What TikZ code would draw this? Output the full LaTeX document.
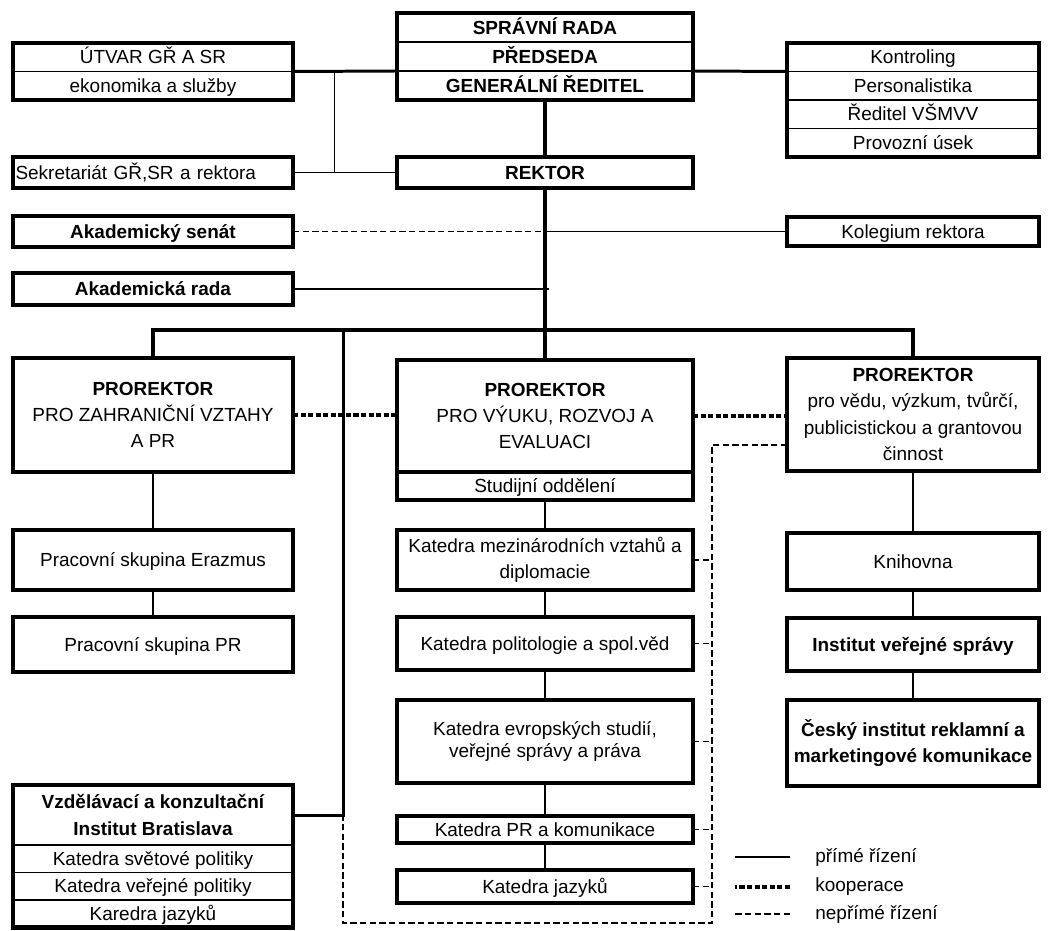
\documentclass[tikz,border=0pt]{standalone}
\usepackage{fontspec}
\setmainfont{Liberation Sans}
\usetikzlibrary{positioning,calc}

\tikzset{
	row/.style={draw,line width=1pt,outer sep=0pt,inner sep=1pt,text height=8.2pt,text depth=0.6pt,font=\fontsize{10.8}{15}\selectfont},
	box/.style={row,line width=2.3pt},
	multi/.style={align=center,text height=,text depth=},
	hd/.style={font=\fontsize{10.8}{15}\selectfont\bfseries},
	frame/.style={draw,line width=2.3pt},
	colL/.style={minimum width=5.6cm},
	colM/.style={minimum width=5.92cm},
	colR/.style={minimum width=5.04cm},
	direct/.style={line width=1pt},
	strong/.style={line width=2.3pt},
	medium/.style={line width=1.7pt},
	coop/.style={line width=2.3pt,dash pattern=on 3pt off 1.3pt},
	indirect/.style={line width=0.9pt,dash pattern=on 3.6pt off 1.9pt},
	note/.style={anchor=west,inner sep=0pt,font=\fontsize{10.8}{15}\selectfont},
}

\begin{document}
\begin{tikzpicture}[x=0.02cm,y=-0.02cm]
	\useasboundingbox (0,0) rectangle (1050,930);

	% vedeni
	\node[row,hd,colM,minimum height=0.58cm,anchor=north] at (545,13) (sr1) {SPRÁVNÍ RADA};
	\node[row,hd,colM,minimum height=0.58cm,below=0pt of sr1] (sr2) {PŘEDSEDA};
	\node[row,hd,colM,minimum height=0.58cm,below=0pt of sr2] (sr3) {GENERÁLNÍ ŘEDITEL};
	\draw[frame] (sr1.north west) rectangle (sr3.south east);

	\node[row,colL,minimum height=0.57cm,anchor=north] at (153,43) (u1) {ÚTVAR GŘ A SR};
	\node[row,colL,minimum height=0.57cm,below=0pt of u1] (u2) {ekonomika a služby};
	\draw[frame] (u1.north west) rectangle (u2.south east);

	\node[row,colR,minimum height=0.57cm,anchor=north] at (913,43) (k1) {Kontroling};
	\node[row,colR,minimum height=0.57cm,below=0pt of k1] (k2) {Personalistika};
	\node[row,colR,minimum height=0.57cm,below=0pt of k2] (k3) {Ředitel VŠMVV};
	\node[row,colR,minimum height=0.57cm,below=0pt of k3] (k4) {Provozní úsek};
	\draw[frame] (k1.north west) rectangle (k4.south east);

	\node[box,colL,minimum height=0.62cm,text width=5.5cm,align=left] at (153,172.5) (sekr) {Sekretariát GŘ,SR a rektora};
	\node[box,hd,colM,minimum height=0.62cm] at (545,172.5) (rektor) {REKTOR};
	\node[box,hd,colL,minimum height=0.62cm] at (153,231.5) (senat) {Akademický senát};
	\node[box,colR,minimum height=0.58cm] at (913,231.5) (koleg) {Kolegium rektora};
	\node[box,hd,colL,minimum height=0.64cm] at (153,289) (rada) {Akademická rada};

	% prorektori
	\node[box,multi,colL,minimum height=2.28cm] at (153,415) (prl) {\textbf{PROREKTOR}\\PRO ZAHRANIČNÍ VZTAHY\\A PR};
	\node[box,multi,colM,minimum height=2.24cm,anchor=north] at (545,360) (prm) {\textbf{PROREKTOR}\\PRO VÝUKU, ROZVOJ A\\EVALUACI};
	\node[box,colM,minimum height=0.56cm,below=0pt of prm] (stud) {Studijní oddělení};
	\node[box,multi,colR,minimum height=2.26cm] at (913,414.5) (prr) {\textbf{PROREKTOR}\\pro vědu, výzkum, tvůrčí,\\publicistickou a grantovou\\činnost};

	\node[box,colL,minimum height=1.2cm] at (153,560) (er) {Pracovní skupina Erazmus};
	\node[box,colL,minimum height=1.1cm] at (153,644.5) (prs) {Pracovní skupina PR};

	\node[box,multi,colM,minimum height=1.2cm] at (545,560) (mez) {Katedra mezinárodních vztahů a\\diplomacie};
	\node[box,colM,minimum height=1.06cm] at (545,643.5) (pol) {Katedra politologie a spol.věd};
	\node[box,multi,colM,minimum height=1.66cm,font=\fontsize{10.8}{12.5}\selectfont] at (545,741.5) (evr) {Katedra evropských studií,\\veřejné správy a práva};
	\node[box,colM,minimum height=0.54cm] at (545,829.5) (prk) {Katedra PR a komunikace};
	\node[box,colM,minimum height=0.66cm] at (545,886.5) (jaz) {Katedra jazyků};

	\node[box,colR,minimum height=1.14cm] at (913,561.5) (kni) {Knihovna};
	\node[box,hd,colR,minimum height=1.06cm] at (913,644.5) (ivs) {Institut veřejné správy};
	\node[box,hd,multi,colR,minimum height=1.72cm] at (913,743) (ces) {Český institut reklamní a\\marketingové komunikace};

	\node[row,hd,multi,colL,minimum height=1.2cm,anchor=north] at (153,785) (vz1) {Vzdělávací a konzultační\\Institut Bratislava};
	\node[row,colL,minimum height=0.55cm,below=0pt of vz1] (vz2) {Katedra světové politiky};
	\node[row,colL,minimum height=0.55cm,below=0pt of vz2] (vz3) {Katedra veřejné politiky};
	\node[row,colL,minimum height=0.55cm,below=0pt of vz3] (vz4) {Karedra jazyků};
	\draw[frame] (vz1.north west) rectangle (vz4.south east);

	\coordinate (bus) at (545,330);
	\coordinate (vzb) at (343,330);
	\coordinate (ia) at (712,445);
	\coordinate (ib) at (712,923);

	% prime rizeni
	\draw[medium] (u1.south east) -- (sr2.south west);
	\draw[medium] (sr2.south east) -- (k1.south west);
	\draw[direct] ($(u1.south east)!0.4!(sr2.south west)$) -- ($(sekr.east)!0.4!(rektor.west)$);
	\draw[direct] (sekr) -- (rektor);
	\draw[strong] (sr3) -- (rektor);
	\draw[strong] (rektor) -- (prm);
	\draw[direct] (senat.east -| rektor.south) -- (koleg);
	\draw[direct] (rada) -- ([xshift=2pt]rada.east -| rektor.south);
	\draw[strong] (prl.north) |- (bus) -| (prr.north);
	\draw[medium] (vzb) |- (vz1.east);
	\draw[direct] (prl) -- (er);
	\draw[direct] (er) -- (prs);
	\draw[direct] (stud) -- (mez);
	\draw[direct] (mez) -- (pol);
	\draw[direct] (pol) -- (evr);
	\draw[direct] (evr) -- (prk);
	\draw[direct] (prk) -- (jaz);
	\draw[direct] (prr) -- (kni);
	\draw[direct] (kni) -- (ivs);
	\draw[direct] (ivs) -- (ces);

	% kooperace
	\draw[coop] (prl.east) -- (prl.east -| prm.west);
	\draw[coop] (prm.east) -- (prm.east -| prr.west);

	% neprime rizeni
	\draw[indirect] (senat.east) -- (senat.east -| rektor.south);
	\draw[indirect] (prr.west |- ia) -- (ia) -- (ib) -| (vzb |- vz1.east);
	\foreach \n in {mez,pol,evr,prk,jaz}
		\draw[indirect] (\n.east) -- (\n.east -| ia);

	% legenda
	\node[note] at (815,857) (lg1) {přímé řízení};
	\node[note] at (815,887) (lg2) {kooperace};
	\node[note] at (815,914) (lg3) {nepřímé řízení};
	\draw[direct] ([xshift=-0.5cm]lg1.west) -- ++(-1.1cm,0);
	\draw[coop] ([xshift=-0.5cm]lg2.west) -- ++(-1.1cm,0);
	\draw[indirect] ([xshift=-0.5cm]lg3.west) -- ++(-1.1cm,0);
\end{tikzpicture}
\end{document}
